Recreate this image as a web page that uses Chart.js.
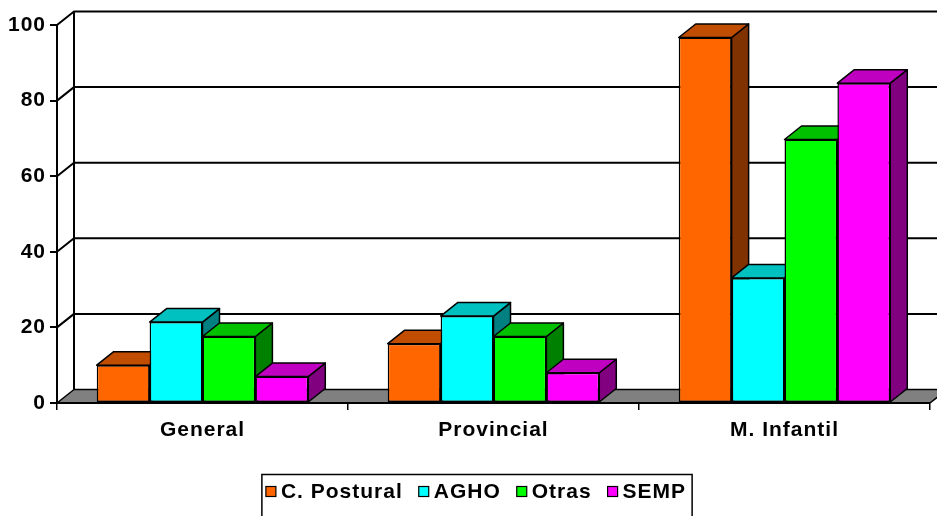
<!DOCTYPE html>
<html lang="es">
  <head>
    <meta charset="utf-8" />
    <title>Comparativa</title>
    <script src="https://cdn.jsdelivr.net/npm/chart.js@4.4.1/dist/chart.umd.min.js"></script>
    <style>
      body { margin: 0; background: #fff; }
      #wrap { width: 937px; height: 516px; }
    </style>
  </head>
  <body>
    <div id="wrap"><canvas id="myChart"></canvas></div>

    <script>
      // values
      var categories = ["General", "Provincial", "M. Infantil"];
      var cPostural = [10, 15.7, 96.7];
      var agho = [21.4, 23, 33.1];
      var otras = [17.6, 17.6, 69.7];
      var semp = [7, 8, 84.6];
      var yTicks = [0, 20, 40, 60, 80, 100];

      // depth of the fake 3d box
      var DX = 17;
      var DY = 13.5;
      var FAMILY = '"Liberation Sans", Arial, sans-serif';

      var series = [
        { label: "C. Postural", data: cPostural, front: "#FF6600", top: "#C04D00", side: "#803300" },
        { label: "AGHO", data: agho, front: "#00FFFF", top: "#00C0C0", side: "#008080" },
        { label: "Otras", data: otras, front: "#00FF00", top: "#00C000", side: "#008000" },
        { label: "SEMP", data: semp, front: "#FF00FF", top: "#C000C0", side: "#800080" },
      ];

      let poly = (ctx, pts, fill) => {
        ctx.beginPath();
        ctx.moveTo(pts[0][0], pts[0][1]);
        for (let i = 1; i < pts.length; i++) ctx.lineTo(pts[i][0], pts[i][1]);
        ctx.closePath();
        if (fill) {
          ctx.fillStyle = fill;
          ctx.fill();
        }
        ctx.stroke();
      };

      var box3d = {
        id: "box3d",
        beforeDraw: (chart) => {
          let ctx = chart.ctx;
          let a = chart.chartArea;
          let ys = chart.scales.y;
          ctx.letterSpacing = "1px";
          ctx.save();
          ctx.fillStyle = "#fff";
          ctx.fillRect(0, 0, chart.width, chart.height);
          ctx.strokeStyle = "#000";
          ctx.lineWidth = 2;
          ctx.lineJoin = "round";

          // back wall grid + connectors to the front axis
          yTicks.forEach((v) => {
            if (v === 0) return;
            let y = ys.getPixelForValue(v);
            ctx.beginPath();
            ctx.moveTo(a.left, y);
            ctx.lineTo(a.left + DX, y - DY);
            ctx.lineTo(chart.width + 5, y - DY);
            ctx.stroke();
          });
          ctx.beginPath();
          ctx.moveTo(a.left + DX, ys.getPixelForValue(100) - DY);
          ctx.lineTo(a.left + DX, a.bottom - DY);
          ctx.stroke();

          // floor
          ctx.lineWidth = 1.5;
          poly(
            ctx,
            [
              [a.left, a.bottom],
              [a.right, a.bottom],
              [a.right + DX, a.bottom - DY],
              [a.left + DX, a.bottom - DY],
            ],
            "#808080"
          );
          ctx.restore();
        },
        beforeDatasetsDraw: (chart) => {
          // side and top faces, left to right; fronts are drawn by chart.js after
          let ctx = chart.ctx;
          ctx.save();
          ctx.strokeStyle = "#000";
          ctx.lineWidth = 1.5;
          ctx.lineJoin = "round";
          series.forEach((s, i) => {
            chart.getDatasetMeta(i).data.forEach((bar) => {
              let p = bar.getProps(["x", "y", "base", "width"], true);
              let l = p.x - p.width / 2;
              let r = p.x + p.width / 2;
              poly(ctx, [[r, p.y], [r + DX, p.y - DY], [r + DX, p.base - DY], [r, p.base]], s.side);
              poly(ctx, [[l, p.y], [r, p.y], [r + DX, p.y - DY], [l + DX, p.y - DY]], s.top);
            });
          });
          ctx.restore();
        },
        afterDraw: (chart) => {
          // legend in a framed box under the chart
          let ctx = chart.ctx;
          ctx.save();
          ctx.font = "bold 21px " + FAMILY;
          ctx.letterSpacing = "1px";
          let widths = series.map((s) => ctx.measureText(s.label).width);
          let total = 0;
          widths.forEach((w, i) => (total += 15 + w + (i < widths.length - 1 ? 16 : 0)));
          let x = 476 - total / 2;
          let yMid = 491.5;
          ctx.strokeStyle = "#000";
          ctx.lineWidth = 1.5;
          ctx.strokeRect(x - 4, 474.5, total + 10, 60);
          ctx.textBaseline = "middle";
          series.forEach((s, i) => {
            ctx.fillStyle = s.front;
            ctx.fillRect(x, yMid - 5, 10, 10);
            ctx.lineWidth = 1.2;
            ctx.strokeRect(x, yMid - 5, 10, 10);
            ctx.fillStyle = "#000";
            ctx.fillText(s.label, x + 15, yMid + 1);
            x += 15 + widths[i] + 16;
          });
          ctx.restore();
        },
      };

      var datasets = series.map((s) => ({
        label: s.label,
        data: s.data,
        backgroundColor: s.front,
        borderColor: "#000",
        borderWidth: 1.5,
        borderSkipped: false,
        categoryPercentage: 0.727,
        barPercentage: 1,
        clip: false,
      }));

      var myChart = new Chart(document.getElementById("myChart"), {
        type: "bar",
        data: { labels: categories, datasets: datasets },
        options: {
          responsive: true,
          maintainAspectRatio: false,
          animation: false,
          layout: { padding: { top: 25, right: 7, bottom: 53, left: 0 } },
          plugins: {
            legend: { display: false },
            tooltip: { enabled: false },
          },
          scales: {
            x: {
              offset: true,
              afterFit: (scale) => {
                scale.height = 60;
              },
              grid: {
                offset: true,
                drawOnChartArea: false,
                tickLength: 7,
                color: "#000",
                lineWidth: 1.5,
              },
              border: { display: true, color: "#000", width: 2 },
              ticks: {
                color: "#000",
                font: { family: FAMILY, size: 21, weight: "bold" },
                padding: 8,
                maxRotation: 0,
                autoSkip: false,
              },
            },
            y: {
              min: 0,
              max: 100,
              afterFit: (scale) => {
                scale.width = 57;
              },
              grid: {
                drawOnChartArea: false,
                tickLength: 7,
                color: "#000",
                lineWidth: 2,
              },
              border: { display: true, color: "#000", width: 2 },
              ticks: {
                stepSize: 20,
                color: "#000",
                padding: 4,
                font: { family: FAMILY, size: 21, weight: "bold" },
              },
            },
          },
        },
        plugins: [box3d],
      });
    </script>
  </body>
</html>
